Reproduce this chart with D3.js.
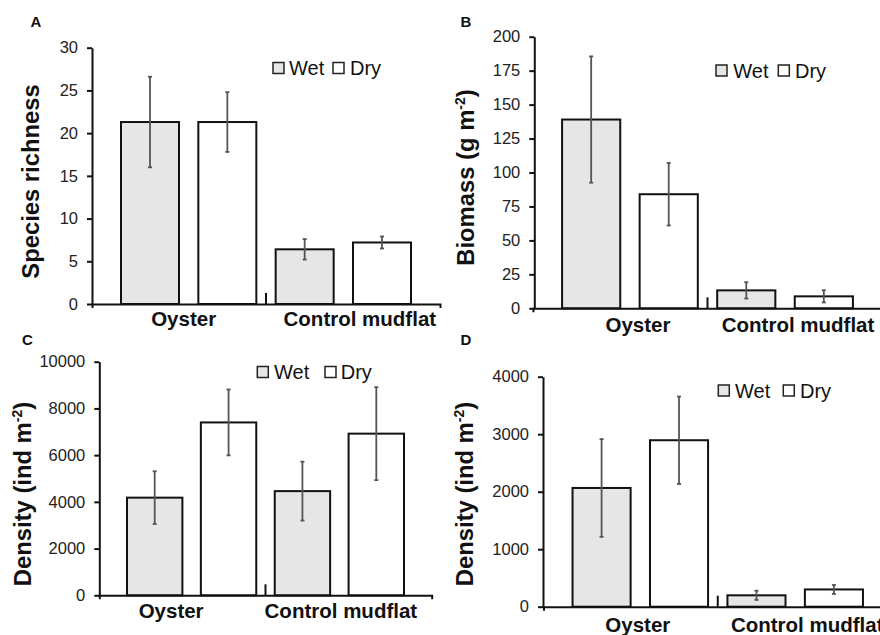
<!DOCTYPE html>
<html>
<head>
<meta charset="utf-8">
<script src="https://cdn.jsdelivr.net/npm/d3@7"></script>
<style>
  body { margin: 0; background: #fff; }
  text { font-family: "Liberation Sans", Arial, sans-serif; }
</style>
</head>
<body>
<script>
// categorías y series
var categories = ["Oyster", "Control mudflat"];
var seriesNames = ["Wet", "Dry"];

// A: riqueza de especies
var richnessWet = [21.3, 6.4];
var richnessDry = [21.3, 7.2];
var richnessWetErr = [5.3, 1.2];
var richnessDryErr = [3.5, 0.7];
var richnessTicks = [0, 5, 10, 15, 20, 25, 30];

// B: biomasa
var biomassWet = [139, 13.2];
var biomassDry = [84, 8.8];
var biomassWetErr = [46.5, 6];
var biomassDryErr = [23, 4.5];
var biomassTicks = [0, 25, 50, 75, 100, 125, 150, 175, 200];

// C: densidad
var densityCWet = [4180, 4460];
var densityCDry = [7400, 6920];
var densityCWetErr = [1130, 1260];
var densityCDryErr = [1410, 1990];
var densityCTicks = [0, 2000, 4000, 6000, 8000, 10000];

// D: densidad
var densityDWet = [2065, 198];
var densityDDry = [2895, 300];
var densityDWetErr = [850, 80];
var densityDDryErr = [760, 78];
var densityDTicks = [0, 1000, 2000, 3000, 4000];

var fills = {Wet: "#e6e6e6", Dry: "#ffffff"};

// cada panel: datos + su posición en la figura
var panels = [
  {letter: "A", letterPos: [36, 27], title: ["Species richness"], titlePos: [39, 181.5],
   values: [richnessWet, richnessDry], errors: [richnessWetErr, richnessDryErr], ticks: richnessTicks,
   axisX: 92, xRange: [92, 440], y0: 304, yTop: 47.7,
   legend: {cy: 68, sq: [273, 333], txt: [289, 350]},
   catY: 326, catOffset: [-5, 16.5]},
  {letter: "B", letterPos: [466, 27], title: ["Biomass (g m", "-2", ")"], titlePos: [473.5, 177.5],
   values: [biomassWet, biomassDry], errors: [biomassWetErr, biomassDryErr], ticks: biomassTicks,
   axisX: 534.3, xRange: [533, 882], y0: 308.3, yTop: 36.7,
   legend: {cy: 70.5, sq: [716, 778.3], txt: [733.3, 795]},
   catY: 331.7, catOffset: [8, 13]},
  {letter: "C", letterPos: [27.5, 345], title: ["Density (ind m", "-2", ")"], titlePos: [30.5, 494],
   values: [densityCWet, densityCDry], errors: [densityCWetErr, densityCDryErr], ticks: densityCTicks,
   axisX: 99.3, xRange: [99.3, 431.7], y0: 595.3, yTop: 361.7,
   legend: {cy: 372, sq: [257.3, 325], txt: [274, 340.7]},
   catY: 618, catOffset: [-20.5, 1.5]},
  {letter: "D", letterPos: [466, 345], title: ["Density (ind m", "-2", ")"], titlePos: [472.5, 494],
   values: [densityDWet, densityDDry], errors: [densityDWetErr, densityDDryErr], ticks: densityDTicks,
   axisX: 543, xRange: [543.5, 892], y0: 606.7, yTop: 376.7,
   legend: {cy: 390.5, sq: [718.3, 783.3], txt: [735, 800]},
   catY: 632, catOffset: [-2.5, 12]}
];

var svg = d3.select("body").append("svg")
    .attr("width", 880)
    .attr("height", 635);

panels.forEach(function(p) {
    var g = svg.append("g");

    var y = d3.scaleLinear()
	.domain([0, d3.max(p.ticks)])
	.range([p.y0, p.yTop]);

    var slots = [];
    categories.forEach(function(c, ci) {
	seriesNames.forEach(function(s, si) {
	    slots.push({key: c + "|" + s, cat: c, ci: ci, series: s,
			value: p.values[si][ci], err: p.errors[si][ci]});
	});
    });

    var x = d3.scaleBand()
	.domain(slots.map(function(d) { return d.key; }))
	.range(p.xRange)
	.paddingInner(0.25)
	.paddingOuter(0.375);
    var bw = x.bandwidth();

    // barras
    g.selectAll(".bar")
	.data(slots)
      .enter()
	.append("rect")
	.attr("class", "bar")
	.attr("x", function(d) { return x(d.key); })
	.attr("y", function(d) { return y(d.value); })
	.attr("width", bw)
	.attr("height", function(d) { return p.y0 - y(d.value); })
	.attr("fill", function(d) { return fills[d.series]; })
	.attr("stroke", "#111")
	.attr("stroke-width", 2);

    // barras de error
    var eb = g.selectAll(".err")
	.data(slots)
      .enter()
	.append("g")
	.attr("class", "err")
	.attr("stroke", "#555")
	.attr("stroke-width", 1.8);
    eb.append("line")
	.attr("x1", function(d) { return x(d.key) + bw / 2; })
	.attr("x2", function(d) { return x(d.key) + bw / 2; })
	.attr("y1", function(d) { return y(d.value + d.err); })
	.attr("y2", function(d) { return y(d.value - d.err); });
    [1, -1].forEach(function(sg) {
	eb.append("line")
	    .attr("x1", function(d) { return x(d.key) + bw / 2 - 2; })
	    .attr("x2", function(d) { return x(d.key) + bw / 2 + 2; })
	    .attr("y1", function(d) { return y(d.value + sg * d.err); })
	    .attr("y2", function(d) { return y(d.value + sg * d.err); });
    });

    // eje y
    var yAxis = g.append("g")
	.attr("transform", "translate(" + p.axisX + ",0)")
	.call(d3.axisLeft(y).tickValues(p.ticks).tickFormat(d3.format("d"))
	      .tickSize(5).tickSizeOuter(0).tickPadding(9));
    yAxis.selectAll("path, line").attr("stroke", "#111").attr("stroke-width", 2);
    yAxis.selectAll("text")
	.attr("fill", "#222")
	.style("font-size", "16.5px");

    // eje x
    var xAxis = g.append("g")
	.attr("transform", "translate(0," + p.y0 + ")")
	.call(d3.axisBottom(x).tickValues([]).tickSizeOuter(4));
    xAxis.selectAll("path").attr("stroke", "#111").attr("stroke-width", 2);

    // marca entre categorías
    var sep = x(slots[1].key) + bw + x.step() * x.paddingInner() / 2;
    g.append("line")
	.attr("x1", sep).attr("x2", sep)
	.attr("y1", p.y0).attr("y2", p.y0 - 11)
	.attr("stroke", "#111")
	.attr("stroke-width", 2);

    // etiquetas de categoría
    categories.forEach(function(c, ci) {
	var a = x(c + "|" + seriesNames[0]), b = x(c + "|" + seriesNames[1]) + bw;
	g.append("text")
	    .attr("x", (a + b) / 2 + p.catOffset[ci])
	    .attr("y", p.catY)
	    .attr("text-anchor", "middle")
	    .style("font-size", "20.5px")
	    .style("font-weight", "bold")
	    .attr("fill", "#111")
	    .text(c);
    });

    // título del eje y
    var t = g.append("text")
	.attr("transform", "translate(" + p.titlePos[0] + "," + p.titlePos[1] + ") rotate(-90)")
	.attr("text-anchor", "middle")
	.style("font-size", "23.8px")
	.style("font-weight", "bold")
	.attr("fill", "#111");
    t.append("tspan").text(p.title[0]);
    if (p.title.length > 1) {
	t.append("tspan").attr("dy", -9).style("font-size", "14px").text(p.title[1]);
	t.append("tspan").attr("dy", 9).text(p.title[2]);
    }

    // letra del panel
    g.append("text")
	.attr("x", p.letterPos[0])
	.attr("y", p.letterPos[1])
	.attr("text-anchor", "middle")
	.style("font-size", "15px")
	.style("font-weight", "bold")
	.attr("fill", "#111")
	.text(p.letter);

    // leyenda
    seriesNames.forEach(function(s, si) {
	g.append("rect")
	    .attr("x", p.legend.sq[si])
	    .attr("y", p.legend.cy - 5.5)
	    .attr("width", 11)
	    .attr("height", 11)
	    .attr("fill", fills[s])
	    .attr("stroke", "#222")
	    .attr("stroke-width", 1.5);
	g.append("text")
	    .attr("x", p.legend.txt[si])
	    .attr("y", p.legend.cy + 7)
	    .style("font-size", "20px")
	    .attr("fill", "#111")
	    .text(s);
    });
});
</script>
</body>
</html>
